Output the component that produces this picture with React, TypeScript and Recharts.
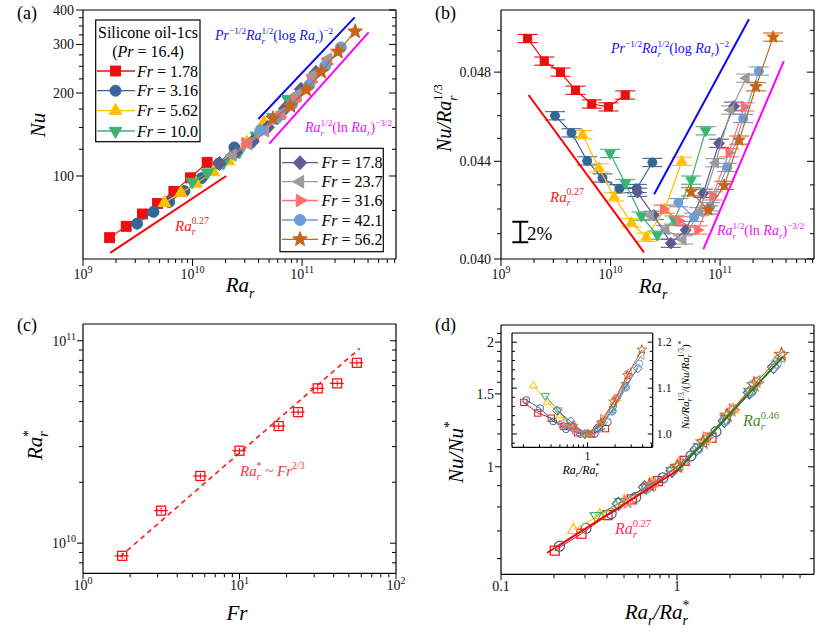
import React from 'react';
import { ComposedChart, Scatter, XAxis, YAxis, ErrorBar } from 'recharts';

const FONT = '"Liberation Serif", "Times New Roman", Times, serif';
const W = 833;
const H = 634;
const THIN = 0.001;

// ---------------- categories ----------------
const frLabels = ['1.78', '3.16', '5.62', '10.0', '17.8', '23.7', '31.6', '42.1', '56.2'];
const frValues = [1.78, 3.16, 5.62, 10.0, 17.8, 23.7, 31.6, 42.1, 56.2];

// ---------------- Ra_r per Fr ----------------
const raFr1_78 = [1.75e9, 2.48e9, 3.49e9, 4.79e9, 6.75e9, 9.57e9, 1.36e10];
const raFr3_16 = [3.11e9, 4.4e9, 6.12e9, 8.44e9, 1.205e10, 1.736e10, 2.41e10];
const raFr5_62 = [5.54e9, 7.82e9, 1.078e10, 1.55e10, 2.125e10, 3.13e10, 4.47e10];
const raFr10_0 = [9.92e9, 1.367e10, 1.913e10, 2.676e10, 3.82e10, 5.43e10, 7.39e10];
const raFr17_8 = [1.759e10, 2.48e10, 3.55e10, 4.86e10, 7.03e10, 9.77e10, 1.339e11];
const raFr23_7 = [2.32e10, 3.21e10, 4.59e10, 6.46e10, 9.08e10, 1.257e11, 1.73e11];
const raFr31_6 = [3.04e10, 4.22e10, 6.25e10, 8.56e10, 1.205e11, 1.662e11];
const raFr42_1 = [4.16e10, 5.78e10, 8.09e10, 1.163e11, 1.627e11, 2.26e11];
const raFr56_2 = [5.43e10, 7.81e10, 1.092e11, 1.496e11, 2.125e11, 3.05e11];

// ---------------- Nu / Ra_r^(1/3) per Fr ----------------
const compFr1_78 = [0.0496, 0.04852, 0.048, 0.04716, 0.04653, 0.0464, 0.04694];
const compFr3_16 = [0.046, 0.04524, 0.04402, 0.04329, 0.04284, 0.04285, 0.04395];
const compFr5_62 = [0.04516, 0.04372, 0.0425, 0.04144, 0.04086, 0.04199, 0.044];
const compFr10_0 = [0.04434, 0.04306, 0.04171, 0.04094, 0.04155, 0.0432, 0.04533];
const compFr17_8 = [0.04269, 0.04174, 0.04062, 0.04115, 0.04265, 0.04478, 0.04643];
const compFr23_7 = [0.04173, 0.04116, 0.04075, 0.04189, 0.04394, 0.04626, 0.04772];
const compFr31_6 = [0.04199, 0.04152, 0.04115, 0.04254, 0.04437, 0.0464];
const compFr42_1 = [0.04226, 0.04166, 0.04209, 0.04374, 0.04588, 0.04805];
const compFr56_2 = [0.04271, 0.04196, 0.04298, 0.04492, 0.04732, 0.04967];

// ---------------- Ra_r* per Fr (panel c) ----------------
const raStar = [8.66e9, 1.448e10, 2.148e10, 2.863e10, 3.79e10, 4.44e10, 5.82e10, 6.16e10, 7.78e10];

// ---------------- reference lines ----------------
const fit027aRa = [1.77e9, 2.03e10];
const fit027aNu = [52.6, 100];
const fitLogaRa = [3.99e10, 3.02e11];
const fitLogaNu = [161, 376];
const fitLnaRa = [5.02e10, 4.05e11];
const fitLnaNu = [131, 332];
const fit027bRa = [1.785e9, 2.02e10];
const fit027bComp = [0.04694, 0.04026];
const fitLogbRa = [2.5e10, 1.834e11];
const fitLogbComp = [0.04261, 0.05054];
const fitLnbRa = [7.03e10, 3.82e11];
const fitLnbComp = [0.04038, 0.04852];
const fitFrX = [1.73, 58.6];
const fitFrY = [8.59e9, 9.16e10];
const fit027dX = [0.183, 1.01];
const fit027dY = [0.62, 0.981];
const fit046dX = [1.01, 4.03];
const fit046dY = [0.981, 1.849];
const scaleBarRa = [1.5e9];
const scaleBarComp = [0.04107];
const scaleBarPct = 0.02;

// ---------------- tick values ----------------
const ticksRaMajor = [1e9, 1e10, 1e11];
const ticksRaMinor = [2e9, 3e9, 4e9, 5e9, 6e9, 7e9, 8e9, 9e9, 2e10, 3e10, 4e10, 5e10, 6e10, 7e10, 8e10, 9e10, 2e11, 3e11, 4e11, 5e11, 6e11, 7e11];
const ticksNuMajor = [100, 200, 300, 400];
const ticksNuMinor = [75, 125, 150, 175, 225, 250, 275, 325, 350, 375];
const ticksCompMajor = [0.04, 0.044, 0.048];
const ticksCompMinor = [0.041, 0.042, 0.043, 0.045, 0.046, 0.047, 0.049, 0.05];
const ticksFrMajor = [1, 10, 100];
const ticksFrMinor = [2, 3, 4, 5, 6, 7, 8, 9, 20, 30, 40, 50, 60, 70, 80, 90];
const ticksRsMajor = [1e10, 1e11];
const ticksRsMinor = [8e9, 9e9, 2e10, 3e10, 4e10, 5e10, 6e10, 7e10, 8e10, 9e10];
const ticksDxMajor = [0.1, 1];
const ticksDxMinor = [0.2, 0.3, 0.4, 0.5, 0.6, 0.7, 0.8, 0.9, 2, 3, 4, 5];
const ticksDyMajor = [1, 1.5, 2];
const ticksDyMinor = [0.6, 0.7, 0.8, 0.9, 1.1, 1.2, 1.3, 1.4, 1.6, 1.7, 1.8, 1.9, 2.1];
const ticksInXMajor = [1];
const ticksInXMinor = [0.2, 0.3, 0.4, 0.5, 0.6, 0.7, 0.8, 0.9, 2, 3, 4, 5];
const ticksInYMajor = [1.0, 1.1, 1.2];
const ticksInYMinor = [0.98, 1.02, 1.04, 1.06, 1.08, 1.12, 1.14, 1.16, 1.18];

// ---------------- styles ----------------
const COLORS = ['#ee0e0e', '#36659a', '#ffbf00', '#3cb371', '#5e5b94', '#9b9b9b', '#ff6f6f', '#6a9ed6', '#c8651b'];
const MARKERS = ['square', 'circle', 'triUp', 'triDown', 'diamond', 'triLeft', 'triRight', 'circle', 'star'];

const raSeries = [raFr1_78, raFr3_16, raFr5_62, raFr10_0, raFr17_8, raFr23_7, raFr31_6, raFr42_1, raFr56_2];
const compSeries = [compFr1_78, compFr3_16, compFr5_62, compFr10_0, compFr17_8, compFr23_7, compFr31_6, compFr42_1, compFr56_2];

const dataA = raSeries.map((ra, i) => ra.map((x, j) => ({ x, y: compSeries[i][j] * Math.cbrt(x) })));
const dataB = raSeries.map((ra, i) => ra.map((x, j) => ({ x, y: compSeries[i][j], e: compSeries[i][j] * 0.004 })));
const dataInset = raSeries.map((ra, i) => {
  const m = Math.min(...compSeries[i]);
  return ra.map((x, j) => ({ x: x / raStar[i], y: compSeries[i][j] / m }));
});
const dataD = dataInset.map((s) => s.map((p) => ({ x: p.x, y: p.y * Math.cbrt(p.x) })));
const dataC = frValues.map((f, i) => ({ x: f, y: raStar[i], ex: f * 0.1, ey: raStar[i] * 0.035 }));
const pairs = (xs: number[], ys: number[]) => xs.map((x, i) => ({ x, y: ys[i] }));

// ---------------- markers ----------------
function polyPts(cx: number, cy: number, r: number, angles: number[]) {
  return angles.map((a) => `${cx + r * Math.cos((a * Math.PI) / 180)},${cy + r * Math.sin((a * Math.PI) / 180)}`).join(' ');
}
function Marker({ type, cx, cy, s, color, open, sw = 1 }: any) {
  if (cx == null || cy == null) return <g />;
  const common = { fill: open ? 'none' : color, stroke: color, strokeWidth: sw };
  const R = s * 0.66;
  switch (type) {
    case 'square':
      return <rect x={cx - s * 0.45} y={cy - s * 0.45} width={s * 0.9} height={s * 0.9} {...common} />;
    case 'circle':
      return <circle cx={cx} cy={cy} r={s * 0.5} {...common} />;
    case 'diamond': {
      const r = s * 0.64;
      return <polygon points={`${cx},${cy - r} ${cx + r * 0.95},${cy} ${cx},${cy + r} ${cx - r * 0.95},${cy}`} {...common} />;
    }
    case 'triUp':
      return <polygon points={polyPts(cx, cy, R, [-90, 30, 150])} {...common} />;
    case 'triDown':
      return <polygon points={polyPts(cx, cy, R, [90, 210, 330])} {...common} />;
    case 'triLeft':
      return <polygon points={polyPts(cx, cy, R, [180, 300, 60])} {...common} />;
    case 'triRight':
      return <polygon points={polyPts(cx, cy, R, [0, 120, 240])} {...common} />;
    case 'star': {
      const pts: string[] = [];
      for (let k = 0; k < 10; k++) {
        const a = ((-90 + k * 36) * Math.PI) / 180;
        const r = k % 2 === 0 ? s * 0.7 : s * 0.3;
        pts.push(`${cx + r * Math.cos(a)},${cy + r * Math.sin(a)}`);
      }
      return <polygon points={pts.join(' ')} {...common} />;
    }
    default:
      return <circle cx={cx} cy={cy} r={s * 0.5} {...common} />;
  }
}

// ---------------- rich text ----------------
type Seg = { t: string; i?: boolean; sub?: boolean; sup?: boolean; stack?: boolean };
function Rich({ x, y, segs, fs, fill = '#000', anchor = 'start', rot = false }: any) {
  let cur = 0;
  let lastSubW = 0;
  const spans = (segs as Seg[]).map((s, k) => {
    const small = s.sub || s.sup;
    const sfs = small ? fs * 0.66 : fs;
    const target = s.sub ? fs * 0.28 : s.sup ? -fs * 0.45 : 0;
    const dy = target - cur;
    cur = target;
    const dx = s.stack ? -lastSubW : 0;
    lastSubW = s.sub ? s.t.length * 0.4 * sfs : 0;
    return (
      <tspan key={k} dy={dy !== 0 ? dy : undefined} dx={dx !== 0 ? dx : undefined} fontSize={sfs} fontStyle={s.i ? 'italic' : 'normal'}>
        {s.t}
      </tspan>
    );
  });
  const txt = (
    <text x={x} y={y} fontFamily={FONT} fontSize={fs} fill={fill} textAnchor={anchor}>
      {spans}
    </text>
  );
  return rot ? <g transform={`rotate(-90 ${x} ${y})`}>{txt}</g> : txt;
}

const RaR: Seg[] = [{ t: 'Ra', i: true }, { t: 'r', i: true, sub: true }];
const segLog: Seg[] = [
  { t: 'Pr', i: true }, { t: '\u22121/2', sup: true }, { t: 'Ra', i: true }, { t: 'r', i: true, sub: true }, { t: '1/2', sup: true, stack: true },
  { t: '(log ' }, { t: 'Ra', i: true }, { t: 'r', i: true, sub: true }, { t: ')' }, { t: '\u22122', sup: true },
];
const segLn: Seg[] = [
  { t: 'Ra', i: true }, { t: 'r', i: true, sub: true }, { t: '1/2', sup: true, stack: true },
  { t: '(ln ' }, { t: 'Ra', i: true }, { t: 'r', i: true, sub: true }, { t: ')' }, { t: '\u22123/2', sup: true },
];
const seg027: Seg[] = [{ t: 'Ra', i: true }, { t: 'r', i: true, sub: true }, { t: '0.27', sup: true, stack: true }];
const seg046: Seg[] = [{ t: 'Ra', i: true }, { t: 'r', i: true, sub: true }, { t: '0.46', sup: true, stack: true }];
const segRatio: Seg[] = [{ t: 'Ra', i: true }, { t: 'r', i: true, sub: true }, { t: '/Ra', i: true }, { t: 'r', i: true, sub: true }, { t: '*', sup: true, stack: true }];

// ---------------- axes ----------------
const pow10 = (v: number) => {
  const e = Math.round(Math.log10(v));
  return (
    <>
      <tspan>10</tspan>
      <tspan dy={-6} fontSize={10}>{e}</tspan>
    </>
  );
};

// custom tick: draws the tick mark (outward dir=1, inward dir=-1) and, for majors, the label
function makeTick(o: any) {
  return (p: any) => {
    const v = p.payload.value;
    const isMajor = o.majors.some((m: number) => Math.abs(m - v) <= Math.abs(m) * 1e-9);
    const len = isMajor ? o.majorLen : o.minorLen;
    const d = o.dir;
    const x = p.x;
    const y = p.y;
    const ls = { stroke: '#000', strokeWidth: 1 };
    const tp = { fontFamily: FONT, fontSize: o.fs, fill: '#111' };
    let line: any = null;
    let label: any = null;
    const show = o.labels && isMajor;
    if (o.side === 'bottom') {
      line = <line x1={x} y1={y} x2={x} y2={y + d * len} {...ls} />;
      if (show) label = <text x={x} y={y + (d > 0 ? len : 0) + o.gap} dy="0.71em" textAnchor="middle" {...tp}>{o.fmt(v)}</text>;
    } else if (o.side === 'top') {
      line = <line x1={x} y1={y} x2={x} y2={y - d * len} {...ls} />;
    } else if (o.side === 'left') {
      line = <line x1={x} y1={y} x2={x - d * len} y2={y} {...ls} />;
      if (show) label = <text x={x - (d > 0 ? len : 0) - o.gap} y={y} dy="0.35em" textAnchor="end" {...tp}>{o.fmt(v)}</text>;
    } else {
      line = <line x1={x} y1={y} x2={x + d * len} y2={y} {...ls} />;
      if (show) label = <text x={x + (d > 0 ? len : 0) + o.gap} y={y} dy="0.35em" textAnchor="start" {...tp}>{o.fmt(v)}</text>;
    }
    return (
      <g>
        {line}
        {label}
      </g>
    );
  };
}

function buildAxes(c: any) {
  const xc = { type: 'number' as const, scale: c.xScale, domain: c.xDomain, allowDataOverflow: true, interval: 0 as const, height: THIN, tickSize: 0, tickMargin: 0, tickLine: false };
  const yc = { type: 'number' as const, scale: c.yScale, domain: c.yDomain, allowDataOverflow: true, interval: 0 as const, width: THIN, tickSize: 0, tickMargin: 0, tickLine: false };
  const line = { stroke: '#000', strokeWidth: 1.2 };
  const xt = [...c.xMajor, ...c.xMinor];
  const yt = [...c.yMajor, ...c.yMinor];
  const outDir = c.inward ? -1 : 1;
  const base = { majorLen: c.major, minorLen: c.minor, fs: c.fs };
  return [
    <XAxis key="xb" xAxisId="xb" dataKey="x" {...xc} orientation="bottom" ticks={xt} axisLine={line}
      tick={makeTick({ ...base, side: 'bottom', dir: outDir, majors: c.xMajor, labels: true, fmt: c.xFmt, gap: c.xGap })} />,
    <XAxis key="xt" xAxisId="xt" {...xc} orientation="top" ticks={xt} axisLine={line}
      tick={makeTick({ ...base, side: 'top', dir: -1, majors: c.xMajor, labels: false })} />,
    <YAxis key="yl" yAxisId="yl" dataKey="y" {...yc} orientation="left" ticks={yt} axisLine={line}
      tick={makeTick({ ...base, side: 'left', dir: outDir, majors: c.yMajor, labels: !c.rightLabels, fmt: c.yFmt, gap: c.yGap })} />,
    <YAxis key="yr" yAxisId="yr" {...yc} orientation="right" ticks={yt} axisLine={line}
      tick={makeTick({ ...base, side: 'right', dir: -1, majors: c.yMajor, labels: !!c.rightLabels, fmt: c.yFmt, gap: c.yGap })} />,
  ];
}

function dataScatter(key: string, data: any[], i: number, s: number, open: boolean, lw: number, sw: number, children?: any) {
  const color = COLORS[i];
  return (
    <Scatter
      key={key}
      xAxisId="xb"
      yAxisId="yl"
      data={data}
      fill={color}
      stroke={color}
      line={{ stroke: color, strokeWidth: lw }}
      lineType="joint"
      shape={(p: any) => <Marker type={MARKERS[i]} cx={p.cx} cy={p.cy} s={s} color={color} open={open} sw={sw} />}
      isAnimationActive={false}
    >
      {children}
    </Scatter>
  );
}

function refLine(key: string, xs: number[], ys: number[], color: string, width = 2, dash?: string) {
  return (
    <Scatter
      key={key}
      xAxisId="xb"
      yAxisId="yl"
      data={pairs(xs, ys)}
      fill={color}
      line={{ stroke: color, strokeWidth: width, strokeDasharray: dash }}
      lineType="joint"
      shape={() => <g />}
      isAnimationActive={false}
    />
  );
}

function Panel({ margin, cfg, children }: any) {
  return (
    <div style={{ position: 'absolute', left: 0, top: 0 }}>
      <ComposedChart width={W} height={H} margin={margin}>
        {buildAxes(cfg)}
        {children}
      </ComposedChart>
    </div>
  );
}

const cfgA = {
  xScale: 'log', yScale: 'log', xDomain: [1e9, 7.2e11], yDomain: [50, 400],
  xMajor: ticksRaMajor, xMinor: ticksRaMinor, yMajor: ticksNuMajor, yMinor: ticksNuMinor,
  xFmt: pow10, yFmt: (v: number) => String(v), major: 7, minor: 4, xGap: 3, yGap: 2, fs: 14,
};
const cfgB = {
  xScale: 'log', yScale: 'log', xDomain: [1e9, 7.2e11], yDomain: [0.04, 0.051],
  xMajor: ticksRaMajor, xMinor: ticksRaMinor, yMajor: ticksCompMajor, yMinor: ticksCompMinor,
  xFmt: pow10, yFmt: (v: number) => v.toFixed(3), major: 7, minor: 4, xGap: 3, yGap: 3, fs: 14,
};
const cfgC = {
  xScale: 'log', yScale: 'log', xDomain: [1, 100], yDomain: [7.1e9, 1.21e11],
  xMajor: ticksFrMajor, xMinor: ticksFrMinor, yMajor: ticksRsMajor, yMinor: ticksRsMinor,
  xFmt: pow10, yFmt: pow10, major: 6, minor: 4, xGap: 1, yGap: 1, fs: 14,
};
const cfgD = {
  xScale: 'log', yScale: 'log', xDomain: [0.1, 6], yDomain: [0.55, 2.2],
  xMajor: ticksDxMajor, xMinor: ticksDxMinor, yMajor: ticksDyMajor, yMinor: ticksDyMinor,
  xFmt: (v: number) => String(v), yFmt: (v: number) => String(v), major: 6, minor: 4, xGap: 1, yGap: 1, fs: 14,
};
const cfgIn = {
  xScale: 'log', yScale: 'linear', xDomain: [0.15, 5.15], yDomain: [0.971, 1.22],
  xMajor: ticksInXMajor, xMinor: ticksInXMinor, yMajor: ticksInYMajor, yMinor: ticksInYMinor,
  xFmt: (v: number) => String(v), yFmt: (v: number) => v.toFixed(1), major: 5, minor: 3, xGap: 4, yGap: 4, fs: 12,
  inward: true, rightLabels: true,
};

function LegendEntry({ i, cy, x0, x1, xm, xt }: any) {
  return (
    <g>
      <line x1={x0} y1={cy} x2={x1} y2={cy} stroke={COLORS[i]} strokeWidth={1.3} />
      <Marker type={MARKERS[i]} cx={xm} cy={cy} s={11} color={COLORS[i]} open={false} sw={1} />
      <Rich x={xt} y={cy + 5.5} fs={16} segs={[{ t: 'Fr', i: true }, { t: ` = ${frLabels[i]}` }]} />
    </g>
  );
}

export default function App() {
  const legend1Y = [71, 90.7, 110.7, 131];
  const legend2Y = [162.7, 181.7, 200.5, 220, 239.3];
  return (
    <div style={{ position: 'absolute', left: 0, top: 0, width: W, height: H, background: '#fff', overflow: 'hidden' }}>
      {/* Panel (a) */}
      <Panel margin={{ top: 10, left: 83, right: W - 396, bottom: H - 259 }} cfg={cfgA}>
        {refLine('fa027', fit027aRa, fit027aNu, '#ff0000', 2)}
        {refLine('falog', fitLogaRa, fitLogaNu, '#0a0af5', 2)}
        {refLine('faln', fitLnaRa, fitLnaNu, '#ff00ff', 2)}
        {dataA.map((d, i) => dataScatter(`a${i}`, d, i, 11, false, 1.2, 1))}
      </Panel>

      {/* Panel (b) */}
      <Panel margin={{ top: 10, left: 501, right: W - 814, bottom: H - 259 }} cfg={cfgB}>
        {refLine('fb027', fit027bRa, fit027bComp, '#ff0000', 2)}
        {refLine('fblog', fitLogbRa, fitLogbComp, '#0a0af5', 2)}
        {refLine('fbln', fitLnbRa, fitLnbComp, '#ff00ff', 2)}
        {dataB.map((d, i) =>
          dataScatter(`b${i}`, d, i, 9, false, 1.2, 1, <ErrorBar dataKey="e" direction="y" width={10} stroke={COLORS[i]} strokeWidth={1.1} />),
        )}
        <Scatter
          key="bar"
          xAxisId="xb"
          yAxisId="yl"
          data={scaleBarRa.map((x, i) => ({ x, y: scaleBarComp[i], e: (scaleBarComp[i] * scaleBarPct) / 2 }))}
          fill="#000"
          shape={() => <g />}
          isAnimationActive={false}
        >
          <ErrorBar dataKey="e" direction="y" width={8} stroke="#000" strokeWidth={2} />
        </Scatter>
      </Panel>

      {/* Panel (c) */}
      <Panel margin={{ top: 324, left: 83, right: W - 396, bottom: H - 573.3 }} cfg={cfgC}>
        {refLine('fc', fitFrX, fitFrY, '#ff1a1a', 1.6, '5 4')}
        <Scatter
          key="c"
          xAxisId="xb"
          yAxisId="yl"
          data={dataC}
          fill="#ff0000"
          shape={(p: any) => <Marker type="square" cx={p.cx} cy={p.cy} s={10} color="#ff0000" open sw={1.2} />}
          isAnimationActive={false}
        >
          <ErrorBar dataKey="ex" direction="x" width={0} stroke="#ff0000" strokeWidth={1.2} />
          <ErrorBar dataKey="ey" direction="y" width={0} stroke="#ff0000" strokeWidth={1} />
        </Scatter>
      </Panel>

      {/* Panel (d) */}
      <Panel margin={{ top: 325, left: 501, right: W - 814, bottom: H - 574.3 }} cfg={cfgD}>
        {dataD.map((d, i) => dataScatter(`d${i}`, d, i, 10, true, 1, 1.2))}
        {refLine('fd027', fit027dX, fit027dY, '#ff0000', 2)}
        {refLine('fd046', fit046dX, fit046dY, '#208020', 2)}
      </Panel>

      {/* Inset of (d) */}
      <Panel margin={{ top: 333, left: 512, right: W - 652.7, bottom: H - 447.3 }} cfg={cfgIn}>
        {dataInset.map((d, i) => dataScatter(`in${i}`, d, i, 7, true, 1, 1))}
      </Panel>

      {/* Text overlay */}
      <svg width={W} height={H} style={{ position: 'absolute', left: 0, top: 0, pointerEvents: 'none' }}>
        {/* panel labels */}
        <text x={17} y={19} fontFamily={FONT} fontSize={18}>(a)</text>
        <text x={435} y={19} fontFamily={FONT} fontSize={18}>(b)</text>
        <text x={17} y={331} fontFamily={FONT} fontSize={18}>(c)</text>
        <text x={435} y={331} fontFamily={FONT} fontSize={18}>(d)</text>

        {/* axis titles */}
        <Rich x={45} y={125} fs={21} rot anchor="middle" segs={[{ t: 'Nu', i: true }]} />
        <Rich x={240} y={292} fs={21} anchor="middle" segs={RaR} />
        <Rich x={451} y={118} fs={20} rot anchor="middle" segs={[{ t: 'Nu/Ra', i: true }, { t: 'r', i: true, sub: true }, { t: '1/3', sup: true, stack: true }]} />
        <Rich x={653} y={293} fs={21} anchor="middle" segs={RaR} />
        <Rich x={42} y={445} fs={21} rot anchor="middle" segs={[{ t: 'Ra', i: true }, { t: 'r', i: true, sub: true }, { t: '*', sup: true, stack: true }]} />
        <Rich x={237} y={620} fs={21} anchor="middle" segs={[{ t: 'Fr', i: true }]} />
        <Rich x={463} y={452} fs={21} rot anchor="middle" segs={[{ t: 'Nu/Nu', i: true }, { t: '*', sup: true }]} />
        <Rich x={657} y={619} fs={21} anchor="middle" segs={segRatio} />

        {/* panel (a) annotations */}
        <Rich x={215} y={40} fs={14} fill="#1515f0" segs={segLog} />
        <Rich x={305} y={132} fs={14} fill="#f010f0" segs={segLn} />
        <Rich x={175} y={231} fs={15} fill="#f52020" segs={seg027} />

        {/* panel (a) legends */}
        <rect x={95.7} y={20} width={104.3} height={121.7} fill="#fff" stroke="#000" strokeWidth={1.2} />
        <text x={148} y={37.5} fontFamily={FONT} fontSize={16} textAnchor="middle">Silicone oil-1cs</text>
        <Rich x={148} y={56.5} fs={16} anchor="middle" segs={[{ t: '(' }, { t: 'Pr', i: true }, { t: ' = 16.4)' }]} />
        {legend1Y.map((cy, k) => (
          <LegendEntry key={`l1${k}`} i={k} cy={cy} x0={97} x1={135} xm={115.5} xt={137} />
        ))}
        <rect x={280} y={148.3} width={103.3} height={103.4} fill="#fff" stroke="#000" strokeWidth={1.2} />
        {legend2Y.map((cy, k) => (
          <LegendEntry key={`l2${k}`} i={k + 4} cy={cy} x0={282} x1={318} xm={300} xt={321.5} />
        ))}

        {/* panel (b) annotations */}
        <Rich x={611} y={53} fs={14} fill="#1515f0" segs={segLog} />
        <Rich x={717} y={235} fs={14} fill="#f010f0" segs={segLn} />
        <Rich x={550} y={202} fs={15} fill="#f52020" segs={seg027} />
        <text x={527} y={240} fontFamily={FONT} fontSize={19}>2%</text>

        {/* panel (c) annotation */}
        <Rich x={240} y={476} fs={15} fill="#ff3344" segs={[{ t: 'Ra', i: true }, { t: 'r', i: true, sub: true }, { t: '*', sup: true, stack: true }, { t: ' ~ ' }, { t: 'Fr', i: true }, { t: '2/3', sup: true }]} />

        {/* panel (d) annotations */}
        <Rich x={743} y={426} fs={16} fill="#4a8a2a" segs={seg046} />
        <Rich x={615} y={534} fs={16} fill="#ff3060" segs={seg027} />
        <Rich x={581} y={474} fs={12} anchor="middle" segs={segRatio} />
        <Rich
          x={689}
          y={385}
          fs={11}
          rot
          anchor="middle"
          segs={[
            { t: 'Nu/Ra', i: true }, { t: 'r', i: true, sub: true }, { t: '1/3', sup: true, stack: true },
            { t: '/(' }, { t: 'Nu/Ra', i: true }, { t: 'r', i: true, sub: true }, { t: '1/3', sup: true, stack: true }, { t: ')' }, { t: '*', sup: true },
          ]}
        />
      </svg>
    </div>
  );
}
